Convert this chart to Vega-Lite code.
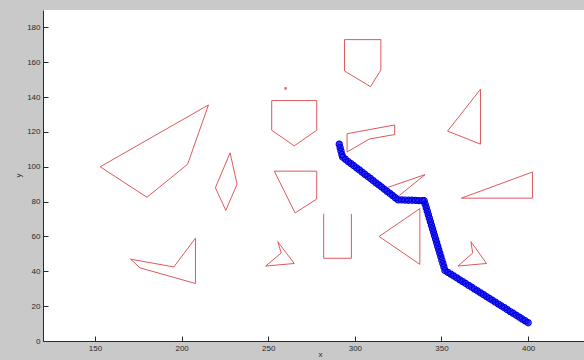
{
  "$schema": "https://vega.github.io/schema/vega-lite/v6.json",
  "autosize": "none",
  "width": 541,
  "height": 331,
  "padding": {"left": 43, "top": 10, "right": 0, "bottom": 19},
  "background": "#c9c9c9",
  "config": {
    "view": {"fill": "#ffffff", "stroke": null},
    "font": "Liberation Sans",
    "axis": {
      "domainColor": "#2a2a2a",
      "tickColor": "#2a2a2a",
      "labelColor": "#2a2a2a",
      "titleColor": "#2a2a2a",
      "labelFont": "Liberation Sans",
      "titleFont": "Liberation Sans",
      "labelFontSize": 8,
      "titleFontSize": 8,
      "titleFontWeight": "normal",
      "tickSize": -5,
      "labelPadding": 8,
      "grid": false
    }
  },
  "datasets": {
    "obstacles": [
      {"id": 1, "k": 0, "x": 153, "y": 100}, {"id": 1, "k": 1, "x": 215.5, "y": 135.5}, {"id": 1, "k": 2, "x": 203.5, "y": 101.5}, {"id": 1, "k": 3, "x": 180, "y": 82.5}, {"id": 1, "k": 4, "x": 153, "y": 100},
      {"id": 2, "k": 0, "x": 228, "y": 108}, {"id": 2, "k": 1, "x": 232, "y": 90}, {"id": 2, "k": 2, "x": 225.5, "y": 75}, {"id": 2, "k": 3, "x": 219.5, "y": 88}, {"id": 2, "k": 4, "x": 228, "y": 108},
      {"id": 3, "k": 0, "x": 170.5, "y": 47}, {"id": 3, "k": 1, "x": 195.5, "y": 42.5}, {"id": 3, "k": 2, "x": 208, "y": 59}, {"id": 3, "k": 3, "x": 208, "y": 33}, {"id": 3, "k": 4, "x": 176, "y": 42}, {"id": 3, "k": 5, "x": 170.5, "y": 47},
      {"id": 4, "k": 0, "x": 252, "y": 138}, {"id": 4, "k": 1, "x": 278, "y": 138}, {"id": 4, "k": 2, "x": 278, "y": 121}, {"id": 4, "k": 3, "x": 265, "y": 112}, {"id": 4, "k": 4, "x": 252, "y": 121}, {"id": 4, "k": 5, "x": 252, "y": 138},
      {"id": 5, "k": 0, "x": 294, "y": 173}, {"id": 5, "k": 1, "x": 315, "y": 173}, {"id": 5, "k": 2, "x": 315, "y": 155.5}, {"id": 5, "k": 3, "x": 309, "y": 146}, {"id": 5, "k": 4, "x": 294, "y": 155}, {"id": 5, "k": 5, "x": 294, "y": 173},
      {"id": 6, "k": 0, "x": 295.5, "y": 119}, {"id": 6, "k": 1, "x": 323, "y": 124}, {"id": 6, "k": 2, "x": 323, "y": 118.5}, {"id": 6, "k": 3, "x": 308.5, "y": 116}, {"id": 6, "k": 4, "x": 295.5, "y": 108.5}, {"id": 6, "k": 5, "x": 295.5, "y": 119},
      {"id": 7, "k": 0, "x": 372.5, "y": 144.5}, {"id": 7, "k": 1, "x": 372.5, "y": 113}, {"id": 7, "k": 2, "x": 353.5, "y": 120.5}, {"id": 7, "k": 3, "x": 372.5, "y": 144.5},
      {"id": 8, "k": 0, "x": 361.5, "y": 82}, {"id": 8, "k": 1, "x": 402.5, "y": 97}, {"id": 8, "k": 2, "x": 402.5, "y": 82}, {"id": 8, "k": 3, "x": 361.5, "y": 82},
      {"id": 9, "k": 0, "x": 318.5, "y": 88}, {"id": 9, "k": 1, "x": 340.5, "y": 95.5}, {"id": 9, "k": 2, "x": 325, "y": 83}, {"id": 9, "k": 3, "x": 318.5, "y": 88},
      {"id": 10, "k": 0, "x": 337.5, "y": 76}, {"id": 10, "k": 1, "x": 337.5, "y": 44}, {"id": 10, "k": 2, "x": 314, "y": 60}, {"id": 10, "k": 3, "x": 337.5, "y": 76},
      {"id": 11, "k": 0, "x": 282, "y": 73}, {"id": 11, "k": 1, "x": 282, "y": 47.5}, {"id": 11, "k": 2, "x": 298, "y": 47.5}, {"id": 11, "k": 3, "x": 298, "y": 73},
      {"id": 12, "k": 0, "x": 255.5, "y": 57}, {"id": 12, "k": 1, "x": 265, "y": 44.5}, {"id": 12, "k": 2, "x": 248.5, "y": 43}, {"id": 12, "k": 3, "x": 257.5, "y": 50.5}, {"id": 12, "k": 4, "x": 255.5, "y": 57},
      {"id": 13, "k": 0, "x": 253.5, "y": 97.5}, {"id": 13, "k": 1, "x": 278, "y": 97.5}, {"id": 13, "k": 2, "x": 278, "y": 81.5}, {"id": 13, "k": 3, "x": 265.5, "y": 73.5}, {"id": 13, "k": 4, "x": 253.5, "y": 97.5},
      {"id": 14, "k": 0, "x": 367, "y": 57}, {"id": 14, "k": 1, "x": 368, "y": 50.5}, {"id": 14, "k": 2, "x": 359.5, "y": 43}, {"id": 14, "k": 3, "x": 376, "y": 44.5}, {"id": 14, "k": 4, "x": 367, "y": 57}
    ],
    "marker": [{"x": 260, "y": 145}],
    "path": [
      {"k": 0, "x": 291, "y": 113}, {"k": 1, "x": 291.5, "y": 111}, {"k": 2, "x": 292, "y": 109}, {"k": 3, "x": 292.5, "y": 107}, {"k": 4, "x": 293, "y": 105.5},
      {"k": 5, "x": 294.6, "y": 104.3}, {"k": 6, "x": 296.2, "y": 103}, {"k": 7, "x": 297.8, "y": 101.8}, {"k": 8, "x": 299.4, "y": 100.6}, {"k": 9, "x": 301, "y": 99.4},
      {"k": 10, "x": 302.6, "y": 98.2}, {"k": 11, "x": 304.2, "y": 96.9}, {"k": 12, "x": 305.8, "y": 95.7}, {"k": 13, "x": 307.4, "y": 94.5}, {"k": 14, "x": 309, "y": 93.3},
      {"k": 15, "x": 310.6, "y": 92}, {"k": 16, "x": 312.2, "y": 90.8}, {"k": 17, "x": 313.8, "y": 89.6}, {"k": 18, "x": 315.4, "y": 88.4}, {"k": 19, "x": 317, "y": 87.1},
      {"k": 20, "x": 318.6, "y": 85.9}, {"k": 21, "x": 320.2, "y": 84.7}, {"k": 22, "x": 321.8, "y": 83.5}, {"k": 23, "x": 323.4, "y": 82.2}, {"k": 24, "x": 325, "y": 81},
      {"k": 25, "x": 327, "y": 81}, {"k": 26, "x": 329, "y": 80.9}, {"k": 27, "x": 331, "y": 80.8}, {"k": 28, "x": 333, "y": 80.8}, {"k": 29, "x": 335, "y": 80.7},
      {"k": 30, "x": 337, "y": 80.6}, {"k": 31, "x": 339, "y": 80.5}, {"k": 32, "x": 340, "y": 80.5},
      {"k": 33, "x": 340.6, "y": 78.5}, {"k": 34, "x": 341.2, "y": 76.5}, {"k": 35, "x": 341.8, "y": 74.5}, {"k": 36, "x": 342.4, "y": 72.5}, {"k": 37, "x": 343, "y": 70.5},
      {"k": 38, "x": 343.6, "y": 68.5}, {"k": 39, "x": 344.2, "y": 66.5}, {"k": 40, "x": 344.8, "y": 64.5}, {"k": 41, "x": 345.4, "y": 62.5}, {"k": 42, "x": 346, "y": 60.5},
      {"k": 43, "x": 346.6, "y": 58.5}, {"k": 44, "x": 347.2, "y": 56.5}, {"k": 45, "x": 347.8, "y": 54.5}, {"k": 46, "x": 348.4, "y": 52.5}, {"k": 47, "x": 349, "y": 50.5},
      {"k": 48, "x": 349.6, "y": 48.5}, {"k": 49, "x": 350.2, "y": 46.5}, {"k": 50, "x": 350.8, "y": 44.5}, {"k": 51, "x": 351.4, "y": 42.5}, {"k": 52, "x": 352, "y": 40.5},
      {"k": 53, "x": 353.7, "y": 39.4}, {"k": 54, "x": 355.4, "y": 38.4}, {"k": 55, "x": 357.1, "y": 37.3}, {"k": 56, "x": 358.9, "y": 36.2}, {"k": 57, "x": 360.6, "y": 35.1},
      {"k": 58, "x": 362.3, "y": 34.1}, {"k": 59, "x": 364, "y": 33}, {"k": 60, "x": 365.7, "y": 31.9}, {"k": 61, "x": 367.4, "y": 30.9}, {"k": 62, "x": 369.1, "y": 29.8},
      {"k": 63, "x": 370.9, "y": 28.7}, {"k": 64, "x": 372.6, "y": 27.6}, {"k": 65, "x": 374.3, "y": 26.6}, {"k": 66, "x": 376, "y": 25.5}, {"k": 67, "x": 377.7, "y": 24.4},
      {"k": 68, "x": 379.4, "y": 23.4}, {"k": 69, "x": 381.1, "y": 22.3}, {"k": 70, "x": 382.9, "y": 21.2}, {"k": 71, "x": 384.6, "y": 20.1}, {"k": 72, "x": 386.3, "y": 19.1},
      {"k": 73, "x": 388, "y": 18}, {"k": 74, "x": 389.7, "y": 16.9}, {"k": 75, "x": 391.4, "y": 15.9}, {"k": 76, "x": 393.1, "y": 14.8}, {"k": 77, "x": 394.9, "y": 13.7},
      {"k": 78, "x": 396.6, "y": 12.6}, {"k": 79, "x": 398.3, "y": 11.6}, {"k": 80, "x": 400, "y": 10.5}
    ]
  },
  "encoding": {
    "x": {
      "field": "x", "type": "quantitative",
      "scale": {"domain": [120, 432.25], "nice": false, "zero": false},
      "axis": {"values": [150, 200, 250, 300, 350, 400], "title": "x", "titleX": 277, "titleY": 13, "titleBaseline": "middle"}
    },
    "y": {
      "field": "y", "type": "quantitative",
      "scale": {"domain": [0, 190], "nice": false},
      "axis": {"values": [0, 20, 40, 60, 80, 100, 120, 140, 160, 180], "title": "y", "titleX": -25, "titleY": 165, "titleBaseline": "middle"}
    }
  },
  "layer": [
    {
      "data": {"name": "obstacles"},
      "mark": {"type": "line", "color": "#d9474a", "strokeWidth": 1, "opacity": 0.9},
      "encoding": {"detail": {"field": "id"}, "order": {"field": "k"}}
    },
    {
      "data": {"name": "marker"},
      "mark": {"type": "point", "shape": "square", "filled": true, "color": "#d92020", "size": 6}
    },
    {
      "data": {"name": "path"},
      "mark": {"type": "line", "color": "#2f2ff5", "strokeWidth": 5, "strokeCap": "round", "strokeJoin": "round"},
      "encoding": {"order": {"field": "k"}}
    },
    {
      "data": {"name": "path"},
      "mark": {"type": "point", "filled": false, "color": "#0000e0", "strokeWidth": 1.2, "size": 38, "opacity": 1}
    }
  ]
}
